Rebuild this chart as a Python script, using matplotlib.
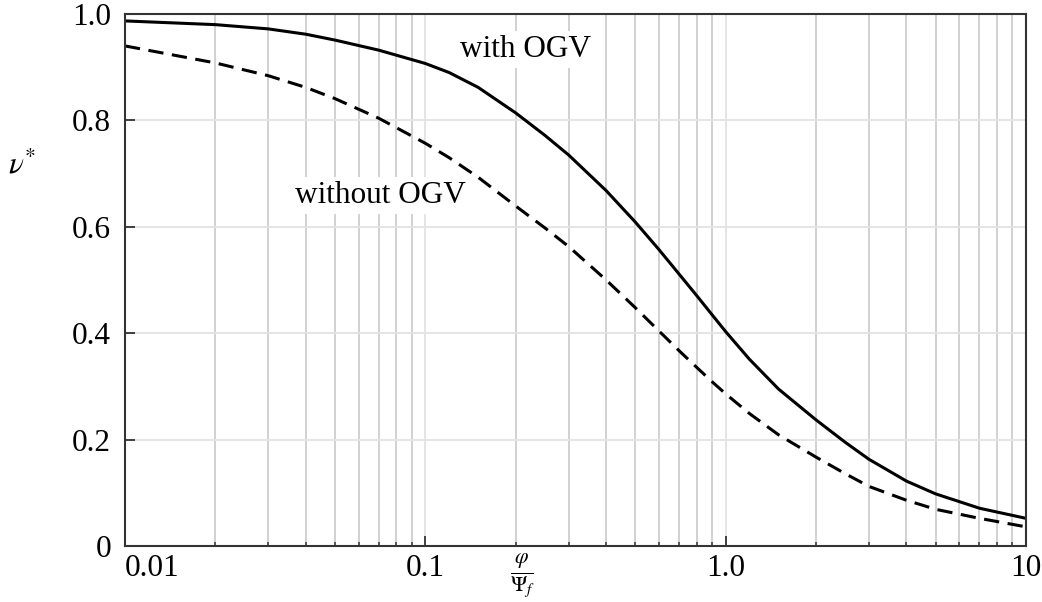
import matplotlib
matplotlib.use('Agg')
import matplotlib.pyplot as plt
from matplotlib.ticker import FixedLocator, NullFormatter

plt.rcParams['font.family'] = ['Liberation Serif', 'DejaVu Serif']
plt.rcParams['mathtext.fontset'] = 'stix'

# ---- data ----
x_with = [0.01, 0.02, 0.03, 0.04, 0.05, 0.07, 0.1, 0.12, 0.15, 0.2, 0.25, 0.3, 0.4,
          0.5, 0.6, 0.7, 0.8, 0.9, 1.0, 1.2, 1.5, 2.0, 2.5, 3.0, 4.0, 5.0, 7.0, 10.0]
y_with = [0.987, 0.980, 0.972, 0.962, 0.951, 0.932, 0.907, 0.890, 0.862, 0.814, 0.772,
          0.735, 0.668, 0.609, 0.557, 0.511, 0.471, 0.435, 0.403, 0.351, 0.295, 0.237,
          0.195, 0.163, 0.122, 0.098, 0.071, 0.052]

x_without = [0.01, 0.02, 0.03, 0.04, 0.05, 0.07, 0.1, 0.12, 0.15, 0.2, 0.25, 0.3, 0.4,
             0.5, 0.6, 0.7, 0.8, 0.9, 1.0, 1.2, 1.5, 2.0, 2.5, 3.0, 4.0, 5.0, 7.0, 10.0]
y_without = [0.940, 0.908, 0.884, 0.862, 0.841, 0.804, 0.757, 0.730, 0.693, 0.639, 0.598,
             0.563, 0.500, 0.448, 0.404, 0.367, 0.336, 0.309, 0.286, 0.249, 0.209, 0.167,
             0.136, 0.112, 0.086, 0.069, 0.052, 0.036]

xticks = [0.01, 0.1, 1.0, 10.0]
xtick_labels = ['0.01', '0.1', '1.0', '10']
yticks = [0.0, 0.2, 0.4, 0.6, 0.8, 1.0]
ytick_labels = ['0', '0.2', '0.4', '0.6', '0.8', '1.0']
label_with = 'with OGV'
label_without = 'without OGV'

FS = 22.5
fig = plt.figure(figsize=(10.42, 6.02), dpi=100)
ax = fig.add_axes([125 / 1042, 1 - 546 / 602, (1026 - 125) / 1042, (546 - 14) / 602])
ax.set_xscale('log')
ax.set_xlim(0.01, 10)
ax.set_ylim(0, 1)

minor = [m * 10.0 ** e for e in (-2, -1, 0) for m in range(2, 10)]
ax.xaxis.set_major_locator(FixedLocator(xticks))
ax.xaxis.set_minor_locator(FixedLocator(minor))
ax.xaxis.set_minor_formatter(NullFormatter())
ax.set_xticklabels(xtick_labels)
ax.set_yticks(yticks)
ax.set_yticklabels(ytick_labels)
ax.yaxis.set_minor_locator(FixedLocator([]))

ax.tick_params(which='major', direction='in', length=7, width=1.3, color='#333333',
               labelsize=FS, top=False, right=False)
ax.tick_params(axis='x', which='major', pad=6)
ax.tick_params(axis='y', which='major', pad=10)
ax.tick_params(axis='x', which='minor', direction='in', length=3, width=1.1,
               color='#333333', top=False)

for lbl in ax.get_xticklabels():
    if lbl.get_text() == '0.01':
        lbl.set_ha('left')

ax.grid(which='major', axis='both', color='#e3e3e3', lw=1.3)
ax.grid(which='minor', axis='x', color='#c9c9c9', lw=1.2)
ax.set_axisbelow(True)

for s in ax.spines.values():
    s.set_color('#333333')
    s.set_linewidth(1.5)

ax.plot(x_with, y_with, color='black', lw=2.2)
ax.plot(x_without, y_without, color='black', lw=2.2, dashes=(5, 2.8))

ax.text(0.215, 0.934, label_with, fontsize=FS, ha='center', va='center',
        bbox=dict(facecolor='white', edgecolor='none', pad=3), zorder=3)
ax.text(0.071, 0.6585, label_without, fontsize=FS, ha='center', va='center',
        bbox=dict(facecolor='white', edgecolor='none', pad=3), zorder=3)

fig.text(523 / 1042, 1 - 576 / 602, r'$\frac{\varphi}{\Psi_f}$', fontsize=FS,
         ha='center', va='center')
fig.text(22 / 1042, 1 - 166 / 602, r'$\nu^{*}$', fontsize=FS, ha='center', va='center')

fig.savefig('out.png', dpi=100)
